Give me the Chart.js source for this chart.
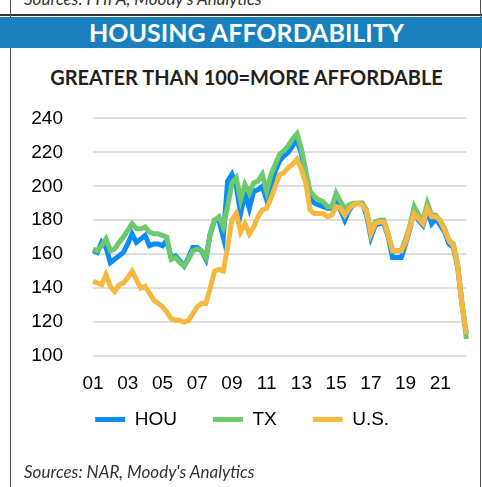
<!DOCTYPE html>
<html>
<head>
<meta charset="utf-8">
<script src="https://cdn.jsdelivr.net/npm/chart.js@4"></script>
<style>
  html, body { margin: 0; padding: 0; background: #fff; }
  #page { position: relative; width: 482px; height: 487px; overflow: hidden; background: #fff; }
  .src { position: absolute; left: 24px; font-family: Lato, sans-serif; font-style: italic; font-size: 17px; color: #333; white-space: nowrap; }
  #topSrc { top: -12px; }
  #bottomSrc { top: 461px; }
  #rule { position: absolute; left: 0; top: 14px; width: 482px; height: 2px; background: #333; }
  .vline { position: absolute; top: 0; width: 1px; height: 487px; background: #555; }
  #banner { position: absolute; left: 0; top: 17px; width: 482px; height: 31px; background: #1a80bd; }
  #banner div { position: absolute; left: 11px; right: 0; top: 0; line-height: 31px; text-align: center; color: #fff; font-family: Lato, sans-serif; font-weight: bold; font-size: 25px; }
  #subtitle { position: absolute; left: 11px; right: 0; top: 64px; line-height: 26px; text-align: center; font-family: Lato, sans-serif; font-weight: bold; font-size: 20px; color: #231f20; }
  #wrap { position: absolute; left: 0; top: 77px; width: 483px; height: 400px; }
</style>
</head>
<body>
<div id="page">
  <div class="src" id="topSrc">Sources: FHFA, Moody's Analytics</div>
  <div id="rule"></div>
  <div class="vline" style="left:10px"></div>
  <div class="vline" style="left:480px"></div>
  <div id="banner"><div>HOUSING AFFORDABILITY</div></div>
  <div id="subtitle">GREATER THAN 100=MORE AFFORDABLE</div>
  <div id="wrap"><canvas id="chart"></canvas></div>
  <div class="src" id="bottomSrc">Sources: NAR, Moody's Analytics</div>
</div>
<script>
// === DATA ===
const years = ['01','02','03','04','05','06','07','08','09','10','11','12','13','14','15','16','17','18','19','20','21','22'];
const tickLabels = ['01','03','05','07','09','11','13','15','17','19','21'];
// quarterly, 2001Q1 - 2022Q3
const quarters = years.flatMap(y => ['Q1','Q2','Q3','Q4'].map(q => y + q)).slice(0, 87);

const hou = [
  162,161,167,164,155,157,159,161,166,172,
  167,169,171,165,166,166,165,168,158,159,
  156,153,158,164,164,162,157,172,180,180,
  170,203,207,200,184,196,187,197,198,200,
  192,200,209,215,218,220,224,227,219,205,
  193,190,189,188,187,187,190,186,180,186,
  189,190,190,183,170,177,178,178,170,158,
  158,158,166,175,185,180,177,186,178,181,
  177,173,166,164,152,130,113
];
const tx = [
  163,162,165,169,162,163,167,170,174,178,
  175,175,176,173,172,172,171,170,157,158,
  155,153,157,162,163,162,158,172,180,182,
  176,188,202,205,192,201,196,202,203,207,
  197,207,213,219,221,224,228,231,222,209,
  197,194,192,191,188,188,196,191,187,189,
  190,190,190,186,173,179,180,180,172,162,
  162,162,169,177,188,183,180,190,183,183,
  179,175,168,166,154,131,110
];
const us = [
  144,143,142,148,141,138,142,143,146,150,
  145,140,141,137,133,131,129,126,122,121,
  121,120,121,125,129,131,131,140,150,151,
  150,164,180,184,173,178,172,176,182,186,
  187,193,200,207,208,211,213,216,210,202,
  186,184,184,184,182,183,188,187,183,187,
  189,190,189,185,172,178,179,179,171,162,
  162,162,167,176,184,181,178,187,182,182,
  180,174,168,165,153,130,113
];

const COLORS = { hou: '#0a8cf5', tx: '#6cc96c', us: '#f7b841' };

// legend sits closer to the axis than its item spacing would allow
const legendShift = {
  id: 'legendShift',
  afterLayout(chart) {
    chart.legend.top -= 38;
    chart.legend.bottom -= 38;
  }
};

function line(label, data, color, order) {
  return {
    label, data, order,
    borderColor: color,
    backgroundColor: color,
    borderWidth: 5,
    pointRadius: 0,
    tension: 0,
    fill: false
  };
}

new Chart(document.getElementById('chart'), {
  type: 'line',
  data: {
    labels: quarters,
    datasets: [
      line('HOU', hou, COLORS.hou, 3),
      line('TX', tx, COLORS.tx, 2),
      line('U.S.', us, COLORS.us, 1)
    ]
  },
  options: {
    responsive: true,
    maintainAspectRatio: false,
    animation: false,
    layout: { padding: { left: 1.3, right: 0, top: 0, bottom: 0 } },
    scales: {
      x: {
        grid: { display: false, drawTicks: false },
        border: { display: false },
        ticks: {
          autoSkip: false,
          maxRotation: 0,
          padding: 16.6,
          color: '#000',
          font: { family: 'Liberation Sans', size: 19 },
          callback: (v, i) => {
            const q = quarters[i];
            return q.endsWith('Q1') && tickLabels.includes(q.slice(0, 2)) ? q.slice(0, 2) : '';
          }
        }
      },
      y: {
        min: 100,
        max: 240,
        grid: { color: '#dedede', lineWidth: 2, drawTicks: false },
        border: { display: false },
        ticks: {
          stepSize: 20,
          padding: 30,
          color: '#000',
          font: { family: 'Liberation Sans', size: 19 }
        }
      }
    },
    plugins: {
      tooltip: { enabled: false },
      legend: {
        position: 'bottom',
        labels: {
          boxWidth: 30,
          boxHeight: 5,
          padding: 36,
          color: '#000',
          font: { family: 'Liberation Sans', size: 19 },
          sort: (a, b) => a.datasetIndex - b.datasetIndex,
          generateLabels: chart => Chart.defaults.plugins.legend.labels.generateLabels(chart)
            .map(l => ({ ...l, lineWidth: 0 }))
        }
      }
    }
  },
  plugins: [legendShift]
});
</script>
</body>
</html>
